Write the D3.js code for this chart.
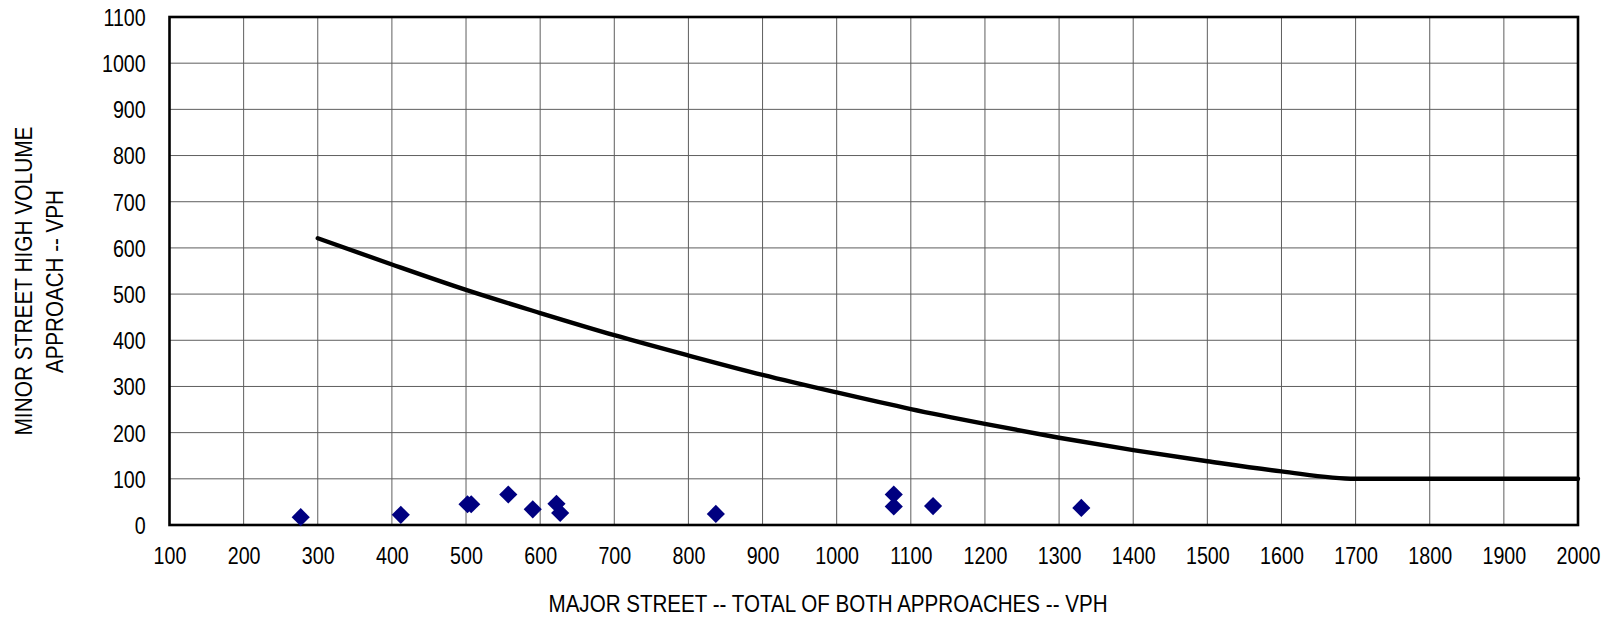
<!DOCTYPE html>
<html>
<head>
<meta charset="utf-8">
<script src="https://cdn.jsdelivr.net/npm/d3@7"></script>
<style>
  body { margin: 0; background: #fff; }
  text { font-family: "Liberation Sans", Arial, sans-serif; fill: #000; }
</style>
</head>
<body>
<svg id="chart" width="1612" height="618"></svg>
<script>
/* Tick labels */
var xTicks = [100, 200, 300, 400, 500, 600, 700, 800, 900, 1000, 1100, 1200, 1300, 1400, 1500, 1600, 1700, 1800, 1900, 2000];
var yTicks = [0, 100, 200, 300, 400, 500, 600, 700, 800, 900, 1000, 1100];

/* Warrant curve */
var curveX = [300, 400, 500, 600, 700, 800, 900, 1000, 1100, 1200, 1300, 1400, 1500, 1600, 1700, 2000];
var curveY = [621, 564, 509, 459, 411, 367, 325, 287, 251, 219, 189, 162, 138, 116, 100, 100];

/* Counted hours */
var pointsX = [277, 412, 502, 507, 557, 590, 622, 627, 837, 1077, 1077, 1130, 1330];
var pointsY = [17, 22, 45, 45, 66, 34, 46, 26, 24, 66, 40, 41, 37];

var xTitle = 'MAJOR STREET -- TOTAL OF BOTH APPROACHES -- VPH';
var yTitle = ['MINOR STREET HIGH VOLUME', 'APPROACH -- VPH'];

/* Layout (plot box edges) */
var plotL = 169.5, plotR = 1578, plotT = 17, plotB = 525;
var narrow = 0.82;   // squeeze text to look like Arial Narrow

var x = d3.scaleLinear().domain([100, 2000]).range([plotL, plotR]);
var y = d3.scaleLinear().domain([0, 1100]).range([plotB, plotT]);

var svg = d3.select('#chart');

/* Grid */
var grid = svg.append('g').attr('stroke', '#5e5e5e').attr('stroke-width', 1);
grid.selectAll('line.gx')
  .data(xTicks)
  .join('line')
  .attr('class', 'gx')
  .attr('x1', function (d) { return x(d); })
  .attr('x2', function (d) { return x(d); })
  .attr('y1', plotT)
  .attr('y2', plotB);
grid.selectAll('line.gy')
  .data(yTicks)
  .join('line')
  .attr('class', 'gy')
  .attr('x1', plotL)
  .attr('x2', plotR)
  .attr('y1', function (d) { return y(d); })
  .attr('y2', function (d) { return y(d); });

/* Axes */
var xAxis = d3.axisBottom(x).tickValues(xTicks).tickSize(0).tickFormat(d3.format('d'));
var gx = svg.append('g')
  .attr('transform', 'translate(0,' + plotB + ')')
  .call(xAxis);
gx.attr('font-family', null).attr('font-size', 24);
gx.select('.domain').remove();
gx.selectAll('text')
  .attr('y', 39)
  .attr('dy', 0)
  .attr('transform', 'scale(' + narrow + ',1)');

var yAxis = d3.axisLeft(y).tickValues(yTicks).tickSize(0).tickFormat(d3.format('d'));
var gy = svg.append('g')
  .attr('transform', 'translate(' + plotL + ',0)')
  .call(yAxis);
gy.attr('font-family', null).attr('font-size', 24);
gy.select('.domain').remove();
gy.selectAll('text')
  .attr('x', -23.8 / narrow)
  .attr('dy', '0.35em')
  .attr('transform', 'scale(' + narrow + ',1)');

/* Plot border */
svg.append('rect')
  .attr('x', plotL)
  .attr('y', plotT)
  .attr('width', plotR - plotL)
  .attr('height', plotB - plotT)
  .attr('fill', 'none')
  .attr('stroke', '#000')
  .attr('stroke-width', 2.6);

/* Warrant line */
var lineData = curveX.map(function (d, i) { return [d, curveY[i]]; });
var line = d3.line()
  .x(function (d) { return x(d[0]); })
  .y(function (d) { return y(d[1]); })
  .curve(d3.curveMonotoneX);
svg.append('path')
  .datum(lineData)
  .attr('d', line)
  .attr('fill', 'none')
  .attr('stroke', '#000')
  .attr('stroke-width', 4.4)
  .attr('stroke-linecap', 'round');

/* Points */
var pts = pointsX.map(function (d, i) { return [d, pointsY[i]]; });
var diamond = d3.symbol().type(d3.symbolSquare).size(165);
svg.append('g')
  .selectAll('path')
  .data(pts)
  .join('path')
  .attr('d', diamond)
  .attr('transform', function (d) {
    return 'translate(' + x(d[0]) + ',' + y(d[1]) + ') rotate(45)';
  })
  .attr('fill', '#000080');

/* Titles */
svg.append('text')
  .attr('x', 828)
  .attr('y', 611.5)
  .attr('text-anchor', 'middle')
  .attr('font-size', 24)
  .attr('textLength', 559)
  .attr('lengthAdjust', 'spacingAndGlyphs')
  .text(xTitle);

svg.append('text')
  .attr('transform', 'translate(31.7,281) rotate(-90)')
  .attr('text-anchor', 'middle')
  .attr('font-size', 24)
  .attr('textLength', 309)
  .attr('lengthAdjust', 'spacingAndGlyphs')
  .text(yTitle[0]);

svg.append('text')
  .attr('transform', 'translate(63.3,281.6) rotate(-90)')
  .attr('text-anchor', 'middle')
  .attr('font-size', 24)
  .attr('textLength', 183)
  .attr('lengthAdjust', 'spacingAndGlyphs')
  .text(yTitle[1]);
</script>
</body>
</html>
